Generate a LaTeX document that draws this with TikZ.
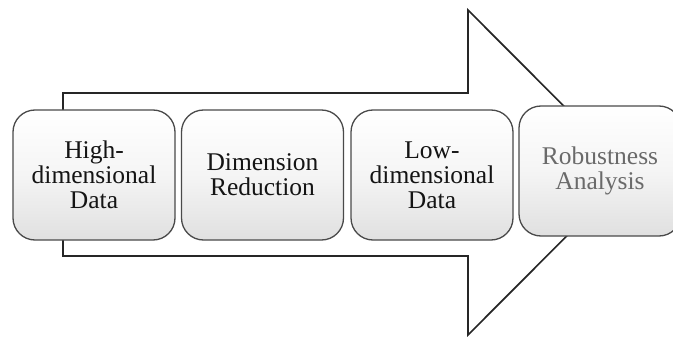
\documentclass[tikz,border=0pt]{standalone}
\usepackage{fontspec}
\setmainfont{Liberation Serif}
\definecolor{boxline}{HTML}{4A4A4A}
\definecolor{boxbottom}{HTML}{E0E0E0}
\definecolor{softtext}{HTML}{6A6A6A}
\definecolor{inktext}{HTML}{141414}
\begin{document}
\begin{tikzpicture}[x=1pt,y=-1pt,
  stagebox/.style={draw=boxline, line width=1.3pt, rounded corners=22pt,
    top color=white, bottom color=boxbottom, middle color=white!96!black,
    minimum width=162pt, minimum height=130pt, inner sep=0pt,
    align=center, text=inktext, font=\fontsize{25.5}{25}\selectfont},
  flowarrow/.style={draw=black!85, line width=1.7pt, fill=white, line join=miter}]
  \useasboundingbox (0,0) rectangle (673,337);
  \clip (0,0) rectangle (673,337);
  % big block arrow behind the stages
  \draw[flowarrow] (63,256) -- (63,93) -- (468,93) -- (468,10) -- (630,172.5)
    -- (468,335) -- (468,256) -- cycle;
  % process stages
  \node[stagebox] (high) at (94,175) {High-\\dimensional\\Data};
  \node[stagebox] (red)  at (262.5,175) {Dimension\\Reduction};
  \node[stagebox] (low)  at (432,175) {Low-\\dimensional\\Data};
  \node[stagebox, text=softtext] (rob) at (600,171) {Robustness\\Analysis};
\end{tikzpicture}
\end{document}
